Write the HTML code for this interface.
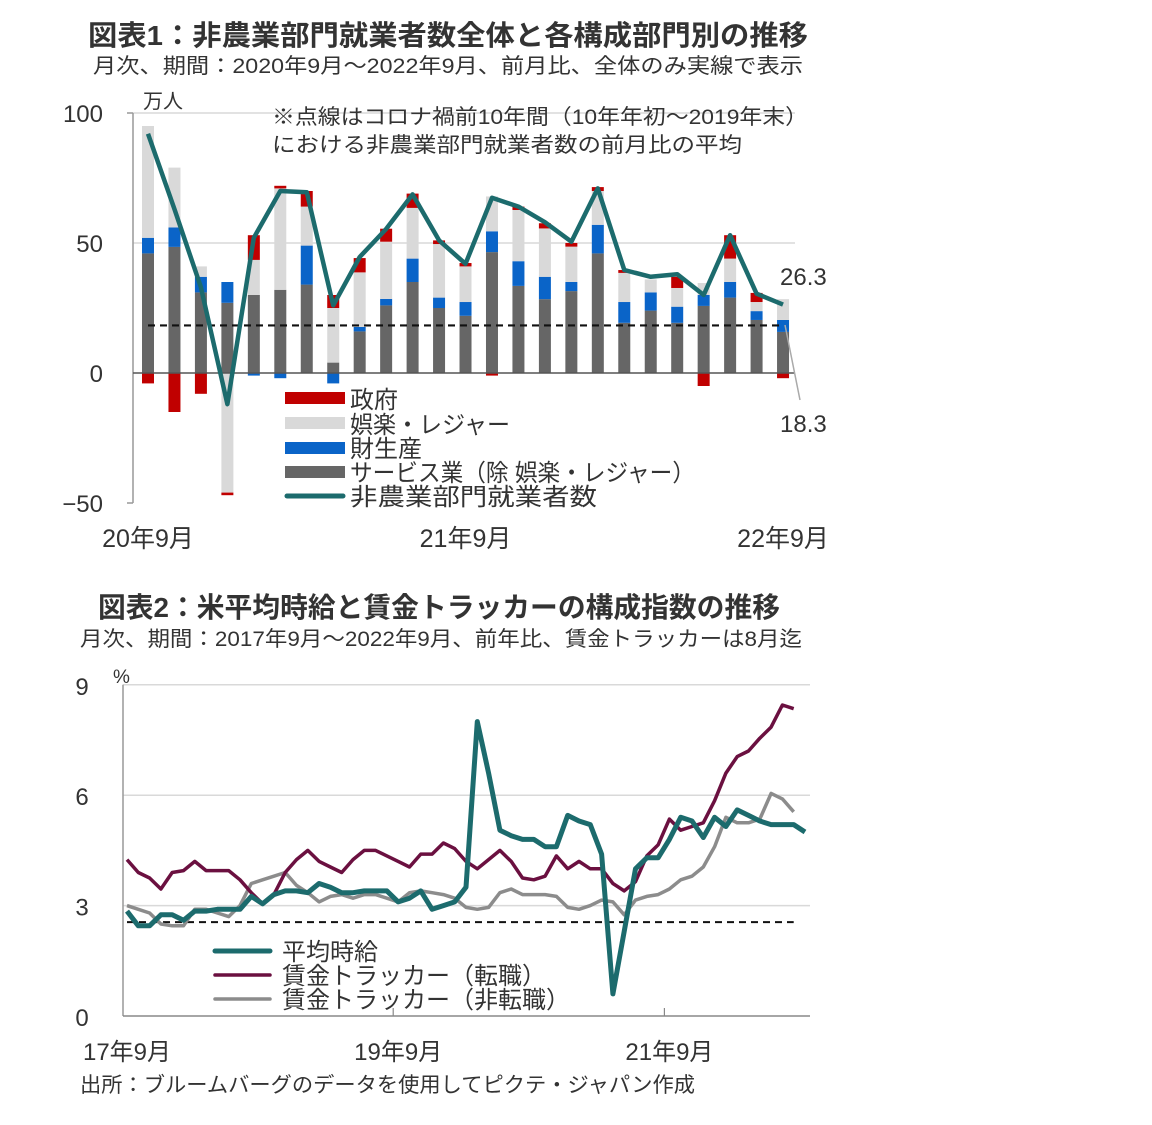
<!DOCTYPE html>
<html><head><meta charset="utf-8">
<style>
html,body{margin:0;padding:0;background:#fff;}
svg{display:block;}
text{font-family:"Liberation Sans","Noto Sans CJK JP",sans-serif;fill:#333;}
</style></head>
<body>
<svg id="root" width="1152" height="1125" viewBox="0 0 1152 1125" xmlns="http://www.w3.org/2000/svg">
  <text x="88" y="45" font-size="28" font-weight="bold" textLength="720" lengthAdjust="spacingAndGlyphs">図表1：非農業部門就業者数全体と各構成部門別の推移</text>
  <text x="93" y="73" font-size="21" textLength="710" lengthAdjust="spacingAndGlyphs">月次、期間：2020年9月～2022年9月、前月比、全体のみ実線で表示</text>
  <text x="143" y="108" font-size="20">万人</text>
  <g id="c1"></g>
  <text x="272" y="124" font-size="21" textLength="536" lengthAdjust="spacingAndGlyphs">※点線はコロナ禍前10年間（10年年初～2019年末）</text>
  <text x="272" y="152" font-size="21" textLength="470" lengthAdjust="spacingAndGlyphs">における非農業部門就業者数の前月比の平均</text>
  <text x="780" y="285" font-size="24">26.3</text>
  <text x="780" y="432" font-size="24">18.3</text>
  <line x1="785" y1="325" x2="800" y2="400" stroke="#aaa" stroke-width="1.5"/>
  <g>
    <rect x="285" y="392" width="60" height="12" fill="#c00000"/>
    <text x="350" y="408" font-size="24">政府</text>
    <rect x="285" y="417" width="60" height="12" fill="#d9d9d9"/>
    <text x="350" y="433" font-size="24" textLength="160" lengthAdjust="spacingAndGlyphs">娯楽・レジャー</text>
    <rect x="285" y="442" width="60" height="12" fill="#0a64c8"/>
    <text x="350" y="457" font-size="24">財生産</text>
    <rect x="285" y="466" width="60" height="12" fill="#666"/>
    <text x="350" y="481" font-size="24" textLength="345" lengthAdjust="spacingAndGlyphs">サービス業（除 娯楽・レジャー）</text>
    <line x1="287" y1="496" x2="343" y2="496" stroke="#1c6b6d" stroke-width="5" stroke-linecap="round"/>
    <text x="350" y="505" font-size="24" textLength="247" lengthAdjust="spacingAndGlyphs">非農業部門就業者数</text>
  </g>

  <text x="98" y="617" font-size="28" font-weight="bold" textLength="682" lengthAdjust="spacingAndGlyphs">図表2：米平均時給と賃金トラッカーの構成指数の推移</text>
  <text x="80" y="646" font-size="21" textLength="722" lengthAdjust="spacingAndGlyphs">月次、期間：2017年9月～2022年9月、前年比、賃金トラッカーは8月迄</text>
  <text x="113" y="683" font-size="19">%</text>
  <g id="c2"></g>
  <g>
    <line x1="215" y1="951" x2="270" y2="951" stroke="#1c6b6d" stroke-width="5" stroke-linecap="round"/>
    <text x="282" y="960" font-size="24">平均時給</text>
    <line x1="215" y1="975" x2="270" y2="975" stroke="#6b1040" stroke-width="3.5" stroke-linecap="round"/>
    <text x="282" y="984" font-size="24">賃金トラッカー（転職）</text>
    <line x1="215" y1="999" x2="270" y2="999" stroke="#8c8c8c" stroke-width="3.5" stroke-linecap="round"/>
    <text x="282" y="1008" font-size="24">賃金トラッカー（非転職）</text>
  </g>
  <text x="80" y="1092" font-size="21" textLength="615" lengthAdjust="spacingAndGlyphs">出所：ブルームバーグのデータを使用してピクテ・ジャパン作成</text>
</svg>
<script>
// ---------- Chart 1 data ----------
const c1Ticks = [100, 50, 0, -50];
const c1XLabels = ["20年9月", "21年9月", "22年9月"];
const c1XLabelIdx = [0, 12, 24];
const services = [46,48.5,31,27,30,32,34,4,16,26,35,25,22,46.5,33.5,28.4,31.5,46,19.3,24,19.3,25.8,29,20.4,15.8];
const goods    = [6,7.5,6,8,-1,-2,15,-4,1.7,2.5,9,4,5.3,8,9.5,8.6,3.5,11,8,7,6.2,4.2,6,3.4,4.6];
const leisure  = [43,23,4,-46,13.5,39,15,21,21,22,19.5,20.6,13.7,13.4,19.7,18.6,13.6,13,11.2,5,7.2,4.6,9,3.5,8];
const govt     = [-4,-15,-8,-1,9.5,1,6,5,5.5,5,5.5,1.4,1.3,-1,1.3,2,1.4,1.5,1.1,0,4.3,-5,9,3.5,-2];
const nonfarm  = [92,63,33,-12,52,70,69.5,26,44.6,55.4,68.7,51,42,67.4,64,58,50.5,71,39.6,37,38,30,53,30.5,26.3];
const c1Avg = 18.3;

// ---------- Chart 2 data ----------
const c2Ticks = [9, 6, 3, 0];
const c2XLabels = ["17年9月", "19年9月", "21年9月"];
const c2XLabelIdx = [0, 24, 48];
const avgHourly = [2.85,2.45,2.45,2.75,2.75,2.6,2.85,2.85,2.9,2.9,2.9,3.25,3.05,3.3,3.4,3.4,3.35,3.6,3.5,3.35,3.35,3.4,3.4,3.4,3.1,3.2,3.4,2.9,3.0,3.1,3.5,8.0,6.6,5.05,4.9,4.8,4.8,4.6,4.6,5.45,5.3,5.2,4.4,0.6,2.3,4.0,4.3,4.3,4.8,5.4,5.3,4.85,5.4,5.15,5.6,5.45,5.3,5.2,5.2,5.2,5.0];
const jobSwitcher = [4.25,3.9,3.75,3.45,3.9,3.95,4.2,3.95,3.95,3.95,3.7,3.35,3.05,3.3,3.9,4.25,4.5,4.2,4.05,3.9,4.25,4.5,4.5,4.35,4.2,4.05,4.4,4.4,4.7,4.55,4.2,4.0,4.25,4.5,4.2,3.75,3.7,3.8,4.35,4.0,4.2,4.0,4.0,3.6,3.4,3.65,4.35,4.65,5.35,5.05,5.15,5.25,5.85,6.6,7.05,7.2,7.55,7.85,8.45,8.35];
const jobStayer = [3.0,2.9,2.8,2.5,2.45,2.45,2.9,2.9,2.8,2.7,3.0,3.6,3.7,3.8,3.9,3.55,3.35,3.1,3.25,3.3,3.2,3.3,3.3,3.2,3.1,3.35,3.4,3.35,3.3,3.2,2.95,2.9,2.95,3.35,3.45,3.3,3.3,3.3,3.25,2.95,2.9,3.0,3.15,3.1,2.75,3.15,3.25,3.3,3.45,3.7,3.8,4.05,4.6,5.4,5.25,5.25,5.35,6.05,5.9,5.55];
const c2Avg = 2.55;

const NS = "http://www.w3.org/2000/svg";
function mk(parent, tag, attrs) {
  const e = document.createElementNS(NS, tag);
  for (const k in attrs) e.setAttribute(k, attrs[k]);
  parent.appendChild(e);
  return e;
}

// ----- chart 1 -----
(function () {
  const g = document.getElementById("c1");
  const y = v => 373 - v * 2.6;
  const x = i => 148 + i * 26.46;
  const L = 133, R = 795;
  c1Ticks.forEach(t => {
    if (t > 0) {
      const gl = mk(g, "line", {x1: L, x2: R, y1: y(t), y2: y(t), stroke: "#d9d9d9", "stroke-width": 1.5});
      
      
    }
    const tl = mk(g, "text", {x: 103, y: y(t) + 9, "font-size": 24, "text-anchor": "end"});
    tl.textContent = t < 0 ? "−" + Math.abs(t) : String(t);
    
    
  });
  const yax = mk(g, "line", {x1: L, x2: L, y1: y(100), y2: y(-50), stroke: "#999", "stroke-width": 1.5});
  
  
  mk(g, "line", {x1: L - 6, x2: L, y1: y(100), y2: y(100), stroke: "#999", "stroke-width": 1.5});
  mk(g, "line", {x1: L - 6, x2: L, y1: y(-50), y2: y(-50), stroke: "#999", "stroke-width": 1.5});
  const series = [[services, "#666666", "bar-services"], [goods, "#0a64c8", "bar-goods"], [leisure, "#d9d9d9", "bar-leisure"], [govt, "#c00000", "bar-government"]];
  for (let i = 0; i < services.length; i++) {
    let pos = 0, neg = 0;
    series.forEach(([arr, col, nm]) => {
      const v = arr[i];
      let y0, y1;
      if (v >= 0) { y0 = pos; y1 = pos + v; pos = y1; } else { y0 = neg; y1 = neg + v; neg = y1; }
      const r = mk(g, "rect", {x: x(i) - 6, width: 12, y: Math.min(y(y0), y(y1)), height: Math.abs(y(y1) - y(y0)), fill: col});
      
      
    });
  }
  const xax = mk(g, "line", {x1: L, x2: R, y1: y(0), y2: y(0), stroke: "#555", "stroke-width": 1.5});
  
  
  const av = mk(g, "line", {x1: x(0), x2: x(services.length - 1), y1: y(c1Avg), y2: y(c1Avg), stroke: "#111", "stroke-width": 2.2, "stroke-dasharray": "7,5"});
  
  
  const pts = nonfarm.map((v, i) => x(i).toFixed(1) + "," + y(v).toFixed(1)).join(" ");
  const pl = mk(g, "polyline", {points: pts, fill: "none", stroke: "#1c6b6d", "stroke-width": 4.5, "stroke-linejoin": "round"});
  
  
  c1XLabels.forEach((lab, k) => {
    const t = mk(g, "text", {x: x(c1XLabelIdx[k]), y: 547, "font-size": 25, "text-anchor": "middle"});
    t.textContent = lab;
    
    
  });
})();

// ----- chart 2 -----
(function () {
  const g = document.getElementById("c2");
  const y = v => 1016 - v * 36.8;
  const x = i => 127 + i * 11.3;
  const L = 123, R = 810;
  c2Ticks.forEach(t => {
    if (t > 0) {
      const gl = mk(g, "line", {x1: L, x2: R, y1: y(t), y2: y(t), stroke: "#d9d9d9", "stroke-width": 1.5});
      
      
    }
    const tl = mk(g, "text", {x: 82, y: y(t) + 10, "font-size": 24, "text-anchor": "middle"});
    tl.textContent = String(t);
    
    
  });
  const yax = mk(g, "line", {x1: L, x2: L, y1: y(9), y2: y(0), stroke: "#999", "stroke-width": 1.5});
  
  
  const xax = mk(g, "line", {x1: L, x2: R, y1: y(0), y2: y(0), stroke: "#888", "stroke-width": 1.5});
  
  
  [24, 48].forEach(i => mk(g, "line", {x1: x(i) - 5, x2: x(i) - 5, y1: y(0) - 8, y2: y(0), stroke: "#888", "stroke-width": 1.2}));
  const av = mk(g, "line", {x1: x(0), x2: x(59), y1: y(c2Avg), y2: y(c2Avg), stroke: "#111", "stroke-width": 2, "stroke-dasharray": "7,5"});
  
  
  const lines = [[jobStayer, "#8c8c8c", 3.5, "job-stayer-line"], [jobSwitcher, "#6b1040", 3.5, "job-switcher-line"], [avgHourly, "#1c6b6d", 5, "avg-hourly-earnings-line"]];
  lines.forEach(([arr, col, w, nm]) => {
    const pts = arr.map((v, i) => x(i).toFixed(1) + "," + y(v).toFixed(1)).join(" ");
    const pl = mk(g, "polyline", {points: pts, fill: "none", stroke: col, "stroke-width": w, "stroke-linejoin": "round"});
    
    
  });
  c2XLabels.forEach((lab, k) => {
    const t = mk(g, "text", {x: x(c2XLabelIdx[k]), y: 1060, "font-size": 24, "text-anchor": "middle"});
    t.textContent = lab;
    
    
  });
})();
</script>
</body></html>
